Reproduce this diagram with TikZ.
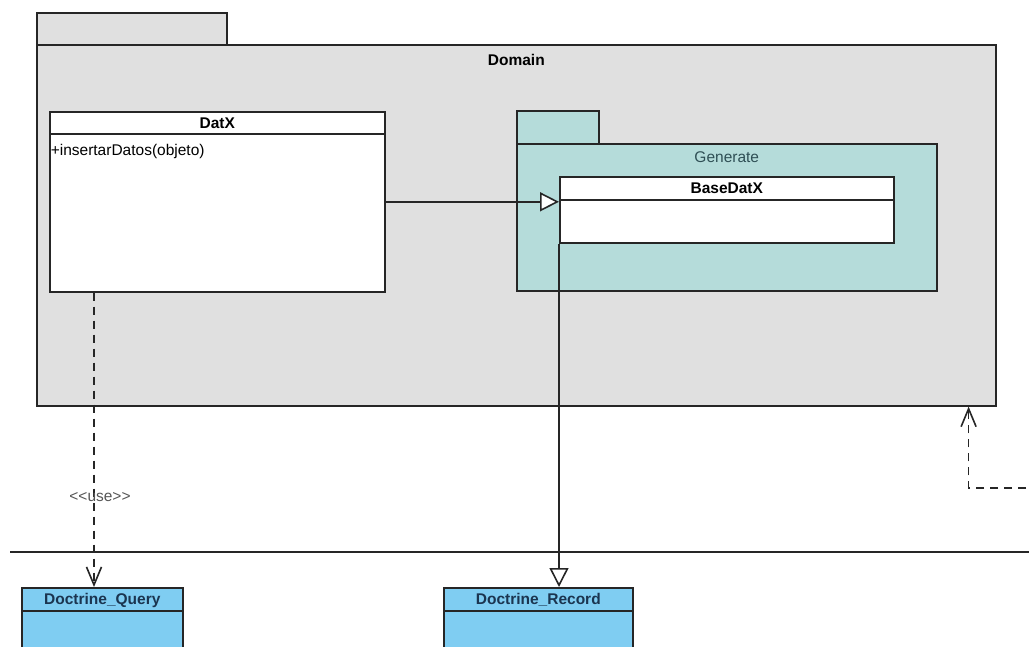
\documentclass[tikz,border=0pt]{standalone}
\usepackage{fontspec}
\setmainfont{Liberation Sans}
\usetikzlibrary{arrows.meta, calc, positioning}
\definecolor{domaingray}{HTML}{E0E0E0}
\definecolor{genteal}{HTML}{B5DCDA}
\definecolor{doctrineblue}{HTML}{7FCDF2}
\definecolor{linegray}{HTML}{262626}
\definecolor{navytext}{HTML}{1B3550}
\definecolor{tealtext}{HTML}{2F4F55}
\definecolor{stereogray}{HTML}{555555}

\begin{document}
\begin{tikzpicture}[x=1pt, y=-1pt, line width=1.6pt,
    box/.style={draw=linegray, inner sep=0pt, anchor=north west},
    pkg/.style={box, fill=domaingray},
    genpkg/.style={box, fill=genteal},
    cls/.style={box, fill=white},
    extcls/.style={box, fill=doctrineblue},
    title/.style={font=\fontsize{15.5}{18}\selectfont\bfseries, inner sep=0pt},
    plain/.style={font=\fontsize{15.5}{18}\selectfont, inner sep=0pt},
    inherit/.style={draw=linegray, -{Triangle[length=19pt,width=19pt,fill=white]}},
    dep/.style={draw=linegray, dash pattern=on 8pt off 6pt, -{Straight Barb[length=18pt,width=15pt]}}]

\useasboundingbox (0,0) rectangle (1029,647);
\clip (0,0) rectangle (1029,647);

% Domain package
\node[pkg, minimum width=190pt, minimum height=32pt] (domaintab) at (36,12) {};
\node[pkg, minimum width=959pt, minimum height=361pt] (domain) at (36,44) {};
\node[title] (domainlbl) at ($(domain.north)+(0,16)$) {Domain};

% DatX
\node[cls, minimum width=335pt, minimum height=180pt] (datx) at (49,111) {};
\draw[linegray] ([yshift=-23pt]datx.north west) -- ([yshift=-23pt]datx.north east);
\node[title] (datxlbl) at ($(datx.north)+(0,12)$) {DatX};
\node[plain, anchor=west] (datxop) at ($(datx.north west)+(1,40)$) {+insertarDatos(objeto)};

% Generate package
\node[genpkg, minimum width=82pt, minimum height=33pt] (gentab) at (516,110) {};
\node[genpkg, minimum width=420pt, minimum height=147pt] (generate) at (516,143) {};
\node[plain, text=tealtext] (genlbl) at ($(generate.north)+(0,14)$) {Generate};

% BaseDatX
\node[cls, minimum width=334pt, minimum height=66pt] (basedatx) at (559,176) {};
\draw[linegray] ([yshift=-24pt]basedatx.north west) -- ([yshift=-24pt]basedatx.north east);
\node[title] (basedatxlbl) at ($(basedatx.north)+(0,12)$) {BaseDatX};

% separator
\draw[linegray] (10,552) -- (1040,552);

% Doctrine classes
\node[extcls, minimum width=161pt, minimum height=90pt] (query) at (21,587) {};
\draw[linegray] ([yshift=-24pt]query.north west) -- ([yshift=-24pt]query.north east);
\node[title, text=navytext] (querylbl) at ($(query.north)+(0,13)$) {Doctrine\_Query};

\node[extcls, minimum width=189pt, minimum height=90pt] (record) at (443,587) {};
\draw[linegray] ([yshift=-24pt]record.north west) -- ([yshift=-24pt]record.north east);
\node[title, text=navytext] (recordlbl) at ($(record.north)+(0,13)$) {Doctrine\_Record};

% connectors
\draw[inherit] (datx.east) -- (datx.east -| basedatx.west);
\draw[inherit] (basedatx.south west) -- (basedatx.south west |- record.north);

\coordinate (usefoot) at ([xshift=45pt]datx.south west);
\draw[dep] (usefoot) -- (usefoot |- query.north);
\node[plain, text=stereogray] (uselbl) at (100,497) {<\kern0pt<use>\kern0pt>};

\coordinate (offright) at (1040,488);
\draw[dep] (offright) -| ([xshift=-28pt]domain.south east);
\end{tikzpicture}
\end{document}
